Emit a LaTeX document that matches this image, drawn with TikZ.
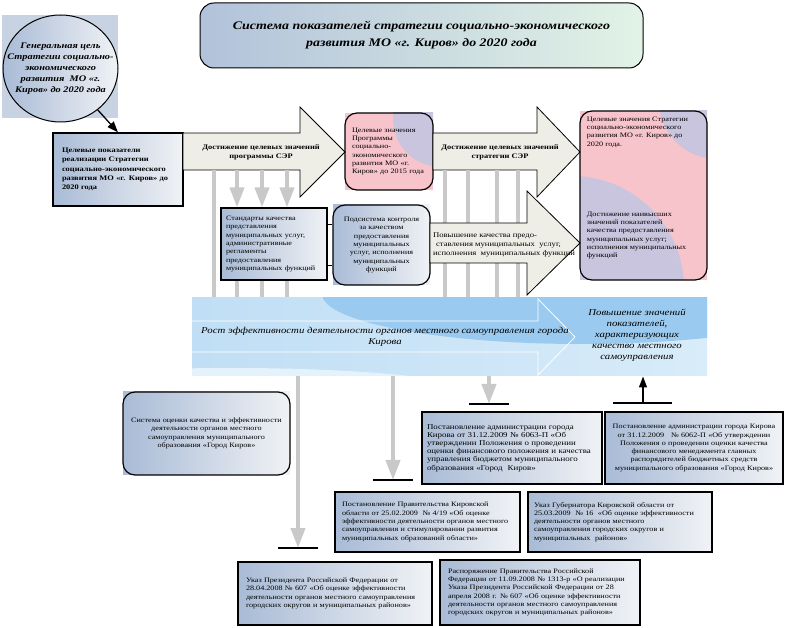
\documentclass[tikz,border=0pt]{standalone}
\usepackage{fontspec}
\setmainfont{Liberation Serif}[FakeStretch=1.2]
\usepackage{tikz}
\usetikzlibrary{arrows.meta}
\usetikzlibrary{shapes.geometric}
\usetikzlibrary{positioning}

\definecolor{boxdark}{HTML}{A9BBD6}
\definecolor{boxlight}{HTML}{F0F2F5}
\definecolor{goalbg}{HTML}{C7D3E2}
\definecolor{arrowfill}{HTML}{EEEEE6}
\definecolor{pinkfill}{HTML}{F7C4CB}
\definecolor{lavfill}{HTML}{C9C5DF}
\definecolor{bandA}{HTML}{C0DEF5}
\definecolor{bandB}{HTML}{9ACAF0}
\definecolor{bandC}{HTML}{D8ECF9}
\definecolor{linegray}{HTML}{C9C9C9}

\newcommand*\boxfont{\fontsize{6.8}{8.3}\selectfont}
\newcommand*\boldfont{\fontsize{7}{9.2}\selectfont\bfseries}
\newcommand*\bandfont{\fontsize{9}{11}\selectfont\itshape}

\tikzset{
    titlebox/.style={draw=black, line width=1pt, rounded corners=14pt, left color=boxdark!90, right color=green!6!boxlight,
        inner sep=0pt, align=center, font=\fontsize{11.6}{17}\selectfont\bfseries\itshape},
    goal/.style={ellipse, draw=black, line width=1pt, left color=boxdark, right color=boxlight, inner xsep=-14pt, inner ysep=0pt,
        align=center, font=\fontsize{8.6}{11}\selectfont\bfseries\itshape},
    docbox/.style={draw=black, line width=1.2pt, left color=boxdark, right color=boxlight, inner sep=0pt, font=\boxfont},
    bgbox/.style={left color=boxdark, right color=boxlight, inner sep=0pt},
    pinkbg/.style={fill=pinkfill, inner sep=0pt},
    roundbox/.style={draw=black, line width=1.2pt, rounded corners=12pt, inner sep=0pt, font=\boxfont},
    bigarrow/.style={draw=black, line width=0.8pt, fill=arrowfill},
    grayline/.style={draw=linegray, line width=4pt},
    grayarrow/.style={draw=linegray, line width=4pt, -{Triangle[width=14pt,length=20pt]}},
    endbar/.style={draw=black, line width=1.2pt},
    blackarrow/.style={draw=black, line width=1.3pt, -{Triangle[width=8pt,length=11pt]}},
}

\begin{document}
\begin{tikzpicture}[x=1pt, y=-1pt, line width=1pt]
    \useasboundingbox (0,0) rectangle (796,628);
    % title
    \node[titlebox, minimum width=443, minimum height=65] (title) at (421.5,35.5)
        {Система показателей стратегии социально-экономического\\развития МО «г. Киров» до 2020 года};
    % general goal
    \node[fill=goalbg, minimum width=116, minimum height=103, inner sep=0pt] (goalbg) at (60,66.5) {};
    \node[goal, minimum width=115, minimum height=107] (goal) at (60.5,68.5)
        {Генеральная цель\\Стратегии социально-\\экономического\\развития~~МО «г.\\Киров» до 2020 года};
    \node[docbox, font=\boldfont, minimum width=130, minimum height=73, text width=112, align=left] (targets) at (118,169.5)
        {Целевые показатели\\реализации Стратегии\\социально-экономического\\развития МО «г. Киров» до\\2020 года};
    \draw[blackarrow] (goal) -- (targets.north);
    % band
    \node[minimum width=515, minimum height=78, inner sep=0pt, left color=bandA, right color=bandC,
        path picture={
            \fill[bandB] ([xshift=390pt,yshift=4pt]path picture bounding box.north west) ellipse (260pt and 50pt);
            \fill[bandC!70!white] ([xshift=40pt,yshift=-14pt]path picture bounding box.south west) ellipse (230pt and 22pt);
        }] (band) at (449.5,337) {};
    \draw[white, line width=0.8pt] (192,321) -- (538,321) -- (538,299) -- (575,337) -- (538,375) -- (538,352) -- (192,352);
    \node[font=\bandfont, align=center] (growth) at (385,337)
        {Рост эффективности деятельности органов местного самоуправления города\\Кирова};
    \node[font=\bandfont, align=center] (quality) at (637,335)
        {Повышение значений\\показателей,\\характеризующих\\качество местного\\самоуправления};
    % middle boxes
    \node[docbox, minimum width=106, minimum height=72, text width=96, align=left] (std) at (274,244)
        {Стандарты качества\\представления\\муниципальных услуг,\\административные\\регламенты\\предоставления\\муниципальных функций};
    \node[bgbox, minimum width=97, minimum height=80] (ctrlbg) at (381.5,245) {};
    \node[roundbox, minimum width=97, minimum height=80, text width=90, align=center] (ctrl) at (ctrlbg)
        {Подсистема контроля\\за качеством\\предоставления\\муниципальных\\услуг, исполнения\\муниципальных\\функций};
    \draw ([yshift=19pt]std.east) -- ([yshift=19pt]std.east -| ctrl.west);
    \draw ([yshift=-22pt]std.east) -- ([yshift=-22pt]std.east -| ctrl.west);
    \node[pinkbg, minimum width=88, minimum height=77,
        path picture={\fill[lavfill] ([xshift=8pt,yshift=-6pt]path picture bounding box.north east) circle (48pt);}] (prog2015bg) at (389,151.5) {};
    \node[roundbox, minimum width=88, minimum height=77, text width=74, align=left] (prog2015) at (prog2015bg)
        {Целевые значения\\Программы\\социально-\\экономического\\развития МО «г.\\Киров» до 2015 года};
    \node[fill=pinkfill, minimum width=127, minimum height=169, inner sep=0pt,
        path picture={
            \fill[lavfill] ([xshift=-8pt,yshift=-8pt]path picture bounding box.south west) circle (112pt);
            \fill[lavfill] ([xshift=10pt,yshift=10pt]path picture bounding box.north east) circle (58pt);
        }] (strat2020bg) at (643.5,195.5) {};
    \node[roundbox, minimum width=127, minimum height=169] (strat2020) at (strat2020bg) {};
    \node[font=\boxfont, align=left, inner sep=0pt, below right=6pt and 7pt of strat2020.north west] (strat2020a)
        {Целевые значения Стратегии\\социально-экономического\\развития МО «г. Киров» до\\2020 года.};
    \node[font=\boxfont, align=left, inner sep=0pt, below right=101pt and 7pt of strat2020.north west] (strat2020b)
        {Достижение наивысших\\значений показателей\\качества предоставления\\муниципальных услуг;\\исполнения муниципальных\\функций};
    % big arrows
    \draw[bigarrow] (183,133) -- (300,133) -- (300,107) -- (345,152) -- (300,197) -- (300,170) coordinate (a1bot) -- (183,170) -- cycle;
    \node[font=\boldfont, align=center] (a1text) at (261,152) {Достижение целевых значений\\программы СЭР};
    \draw[bigarrow] (433,133) -- (537,133) -- (537,107) -- (580,152) -- (537,197) -- (537,170) coordinate (a3bot) -- (433,170) -- cycle;
    \node[font=\boldfont, align=center] (a3text) at (500,152) {Достижение целевых значений\\стратегии СЭР};
    \draw[grayline] (214,0 |- a1bot) -- (214,0 |- band.north);
    \foreach \x in {237,262,287} {
        \draw[grayarrow] (\x,0 |- a1bot) -- (\x,0 |- std.north);
        \draw[grayline] (\x,0 |- std.south) -- (\x,0 |- band.north);
    }
    \foreach \x in {445,468,497,518}
        \draw[grayline] (\x,0 |- a3bot) -- (\x,0 |- band.north);
    \draw[bigarrow] (430,223) -- (527,223) -- (527,191) -- (580,243) -- (527,295) -- (527,263) -- (430,263) -- cycle;
    \node[font=\fontsize{7.2}{8.6}\selectfont, align=left, inner sep=0pt, right=2pt of ctrl] (qual)
        {Повышение качества предо-\\\hspace{3pt}ставления муниципальных~~услуг,\\исполнения~~муниципальных функций};
    % lower boxes
    \node[bgbox, minimum width=167, minimum height=83] (assessbg) at (206.5,433.5) {};
    \node[roundbox, minimum width=167, minimum height=83, text width=160, align=center] (assess) at (assessbg)
        {Система оценки качества и эффективности\\деятельности органов местного\\самоуправления муниципального\\образования «Город Киров»};
    \node[docbox, font=\fontsize{7.4}{8.2}\selectfont, minimum width=180, minimum height=72, text width=170, align=left] (p6063) at (512,448)
        {Постановление администрации города\\Кирова от 31.12.2009 № 6063-П «Об\\утверждении Положения о проведении\\оценки финансового положения и качества\\управления бюджетом муниципального\\образования «Город~~Киров»};
    \node[docbox, minimum width=178, minimum height=72, text width=168, align=center] (p6062) at (694,448)
        {Постановление администрации города Кирова\\от 31.12.2009~~ № 6062-П «Об утверждении\\Положения о проведении оценки качества\\финансового менеджмента главных\\распорядителей бюджетных средств\\муниципального образования «Город Киров»};
    \node[docbox, minimum width=185, minimum height=60, text width=171, align=left] (p419) at (427.5,522)
        {Постановление Правительства Кировской\\области от 25.02.2009~ № 4/19 «Об оценке\\эффективности деятельности органов местного\\самоуправления и стимулировании развития\\муниципальных образований области»};
    \node[docbox, minimum width=184, minimum height=60, text width=172, align=left] (gov16) at (620,522)
        {Указ Губернатора Кировской области от\\25.03.2009~ № 16~ «Об оценке эффективности\\деятельности органов местного\\самоуправления городских округов и\\муниципальных~ районов»};
    \node[docbox, minimum width=194, minimum height=63, text width=178, align=left] (pres607) at (335,593.5)
        {Указ Президента Российской Федерации от\\28.04.2008 № 607 «Об оценке эффективности\\деятельности органов местного самоуправления\\городских округов и муниципальных районов»};
    \node[docbox, minimum width=200, minimum height=65, text width=184, align=left] (rasp1313) at (540,592.5)
        {Распоряжение Правительства Российской\\Федерации от 11.09.2008 № 1313-р «О реализации\\Указа Президента Российской Федерации от 28\\апреля 2008 г. № 607 «Об оценке эффективности\\деятельности органов местного самоуправления\\городских округов и муниципальных районов»};
    % connectors below the band
    \coordinate (bar1) at (298,548);
    \coordinate (bar2) at (393,480);
    \coordinate (bar3) at (489,404);
    \coordinate (bar4) at (643,403);
    \foreach \b in {bar1,bar2,bar3} {
        \draw[grayarrow] (\b |- band.south) -- (\b);
        \draw[endbar] ([xshift=-20pt]\b) -- ([xshift=20pt]\b);
    }
    \draw[endbar] ([xshift=-30pt]bar4) -- ([xshift=29pt]bar4);
    \draw[blackarrow] (bar4) -- (bar4 |- band.south);
\end{tikzpicture}
\end{document}
